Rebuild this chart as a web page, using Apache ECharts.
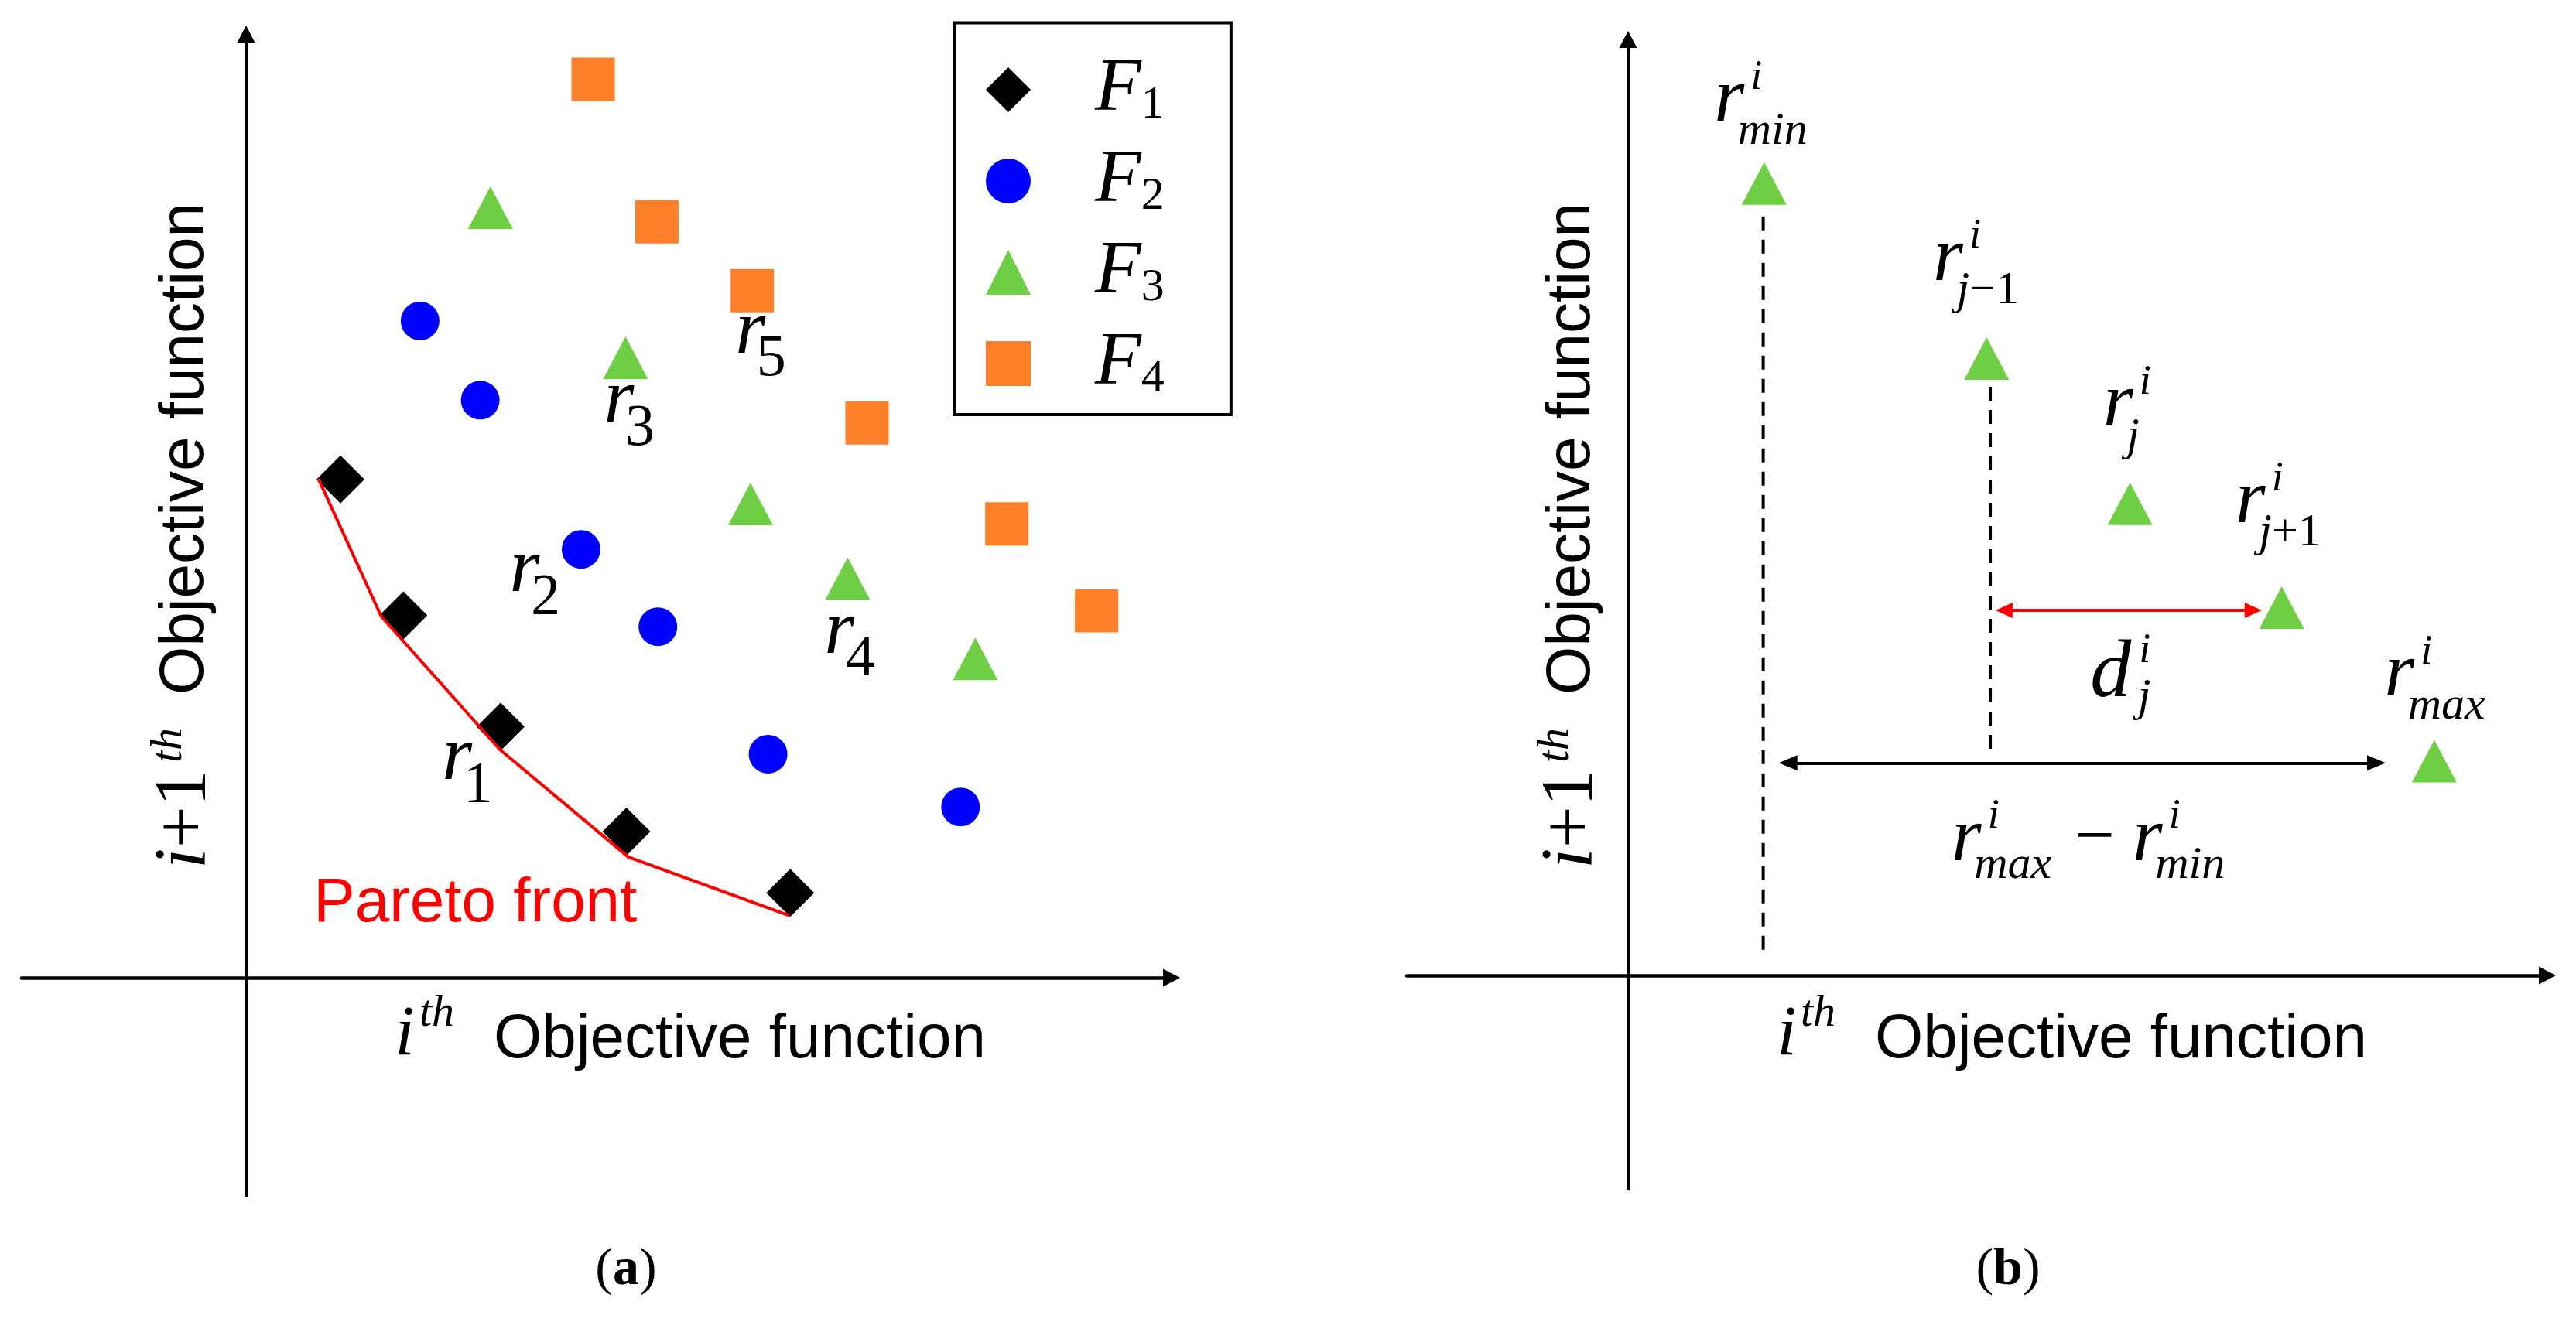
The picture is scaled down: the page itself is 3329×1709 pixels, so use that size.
<!DOCTYPE html>
<html>
<head>
<meta charset="utf-8">
<script src="https://cdn.jsdelivr.net/npm/echarts@6/dist/echarts.min.js"></script>
<style>html,body{margin:0;padding:0;background:#fff}#c{width:3329px;height:1709px}</style>
</head>
<body>
<div id="c"></div>
<script>
// ---------- Panel (a) data (axis units, origin at the axis crossing) ----------
const legendNames = ['F1', 'F2', 'F3', 'F4'];
const f1Points = [[10.2, 52.8], [17.0, 38.4], [27.5, 26.6], [41.1, 15.5], [58.8, 9.0]];
const f2Points = [[18.8, 69.6], [25.3, 61.2], [36.2, 45.4], [44.5, 37.2], [56.4, 23.7], [77.2, 18.1]];
const f3Points = [[26.4, 81.6], [41.0, 65.7], [54.5, 50.2], [65.0, 42.3], [78.8, 33.8]];
const f4Points = [[37.5, 95.2], [44.4, 80.1], [54.7, 72.8], [67.1, 58.8], [82.2, 48.1], [91.9, 38.9]];
const paretoFront = [[7.8, 52.9], [14.6, 38.3], [27.4, 24.2], [41.3, 12.8], [58.7, 6.6]];
const rLabelsA = [
  { sub: '1', x: 22.8, y: 22.3 },
  { sub: '2', x: 30.1, y: 42.2 },
  { sub: '3', x: 40.3, y: 60.2 },
  { sub: '4', x: 64.1, y: 35.7 },
  { sub: '5', x: 54.5, y: 67.5 }
];
const paretoLabel = { text: 'Pareto front', x: 7.3, y: 7.8 };
const xRangeA = [-24.25, 100];
const yRangeA = [-23.03, 100];

// ---------- Panel (b) data ----------
const frontPoints = [[14.8, 84.6], [39.0, 65.9], [54.6, 50.4], [71.1, 39.3], [87.7, 22.9]];
const pointLabelsB = [
  { base: 'r', sup: 'i', sub: 'min', x: 11.0, y: 92.6 },
  { base: 'r', sup: 'i', sub: 'j−1', x: 34.8, y: 75.6 },
  { base: 'r', sup: 'i', sub: 'j', x: 53.3, y: 60.0 },
  { base: 'r', sup: 'i', sub: 'j+1', x: 67.7, y: 49.7 },
  { base: 'd', sup: 'i', sub: 'j', x: 52.5, y: 32.1 },
  { base: 'r', sup: 'i', sub: 'max', x: 83.9, y: 31.2 }
];
const dropLine1 = [[14.7, 81.1], [14.7, 2.4]];
const dropLine2 = [[39.4, 62.9], [39.4, 24.1]];
const rangeArrow = [[17.4, 22.7], [81.4, 22.7]];
const distArrow = [[40.9, 39.0], [68.0, 39.0]];
const rangeLabel = { x: 36.8, y: 13.6 };
const xRangeB = [-24.07, 100];
const yRangeB = [-22.81, 100];

// ---------- styles ----------
const SERIF = "'Liberation Serif', 'Times New Roman', serif";
const SANS = "'Liberation Sans', Arial, sans-serif";
const GREEN = '#6FCF44';
const ORANGE = '#FF8028';
const BLUE = '#0000FF';

function axisDef(gridIndex, range) {
  return {
    type: 'value', gridIndex: gridIndex, min: range[0], max: range[1],
    axisLine: { show: true, onZero: true, symbol: ['none', 'triangle'], symbolSize: [23, 22],
      lineStyle: { color: '#000', width: 4.5 } },
    axisTick: { show: false }, axisLabel: { show: false },
    splitLine: { show: false }, splitArea: { show: false }
  };
}

const chart = echarts.init(document.getElementById('c'), null, { renderer: 'canvas' });

const arrowMark = (pts, color, size) => ({
  silent: true, animation: false,
  symbol: ['triangle', 'triangle'], symbolSize: size,
  label: { show: false },
  emphasis: { disabled: true },
  lineStyle: { color: color, width: 4, type: 'solid' },
  data: [[{ coord: pts[0] }, { coord: pts[1] }]]
});

const option = {
  animation: false,
  backgroundColor: '#fff',
  grid: [
    { left: 28, top: 44, width: 1486, height: 1501, containLabel: false, outerBoundsMode: 'none' },
    { left: 1818, top: 51, width: 1474, height: 1486, containLabel: false, outerBoundsMode: 'none' }
  ],
  xAxis: [axisDef(0, xRangeA), axisDef(1, xRangeB)],
  yAxis: [axisDef(0, yRangeA), axisDef(1, yRangeB)],
  legend: {
    data: legendNames,
    orient: 'vertical',
    left: 1233, top: 29.5,
    padding: [37.5, 86, 16, 41],
    itemGap: 19,
    itemWidth: 58, itemHeight: 58,
    borderColor: '#000', borderWidth: 4,
    backgroundColor: '#fff',
    selectedMode: false,
    formatter: name => '{f|F}{s|' + name.slice(1) + '}',
    textStyle: {
      rich: {
        f: { fontFamily: SERIF, fontStyle: 'italic', fontSize: 98, lineHeight: 100, padding: [0, 0, 0, 78], color: '#000' },
        s: { fontFamily: SERIF, fontSize: 60, lineHeight: 26, verticalAlign: 'bottom', color: '#000' }
      }
    }
  },
  series: [
    { name: 'F1', type: 'scatter', xAxisIndex: 0, yAxisIndex: 0, data: f1Points,
      symbol: 'diamond', symbolSize: 62, itemStyle: { color: '#000', opacity: 1 }, z: 3 },
    { name: 'F2', type: 'scatter', xAxisIndex: 0, yAxisIndex: 0, data: f2Points,
      symbol: 'circle', symbolSize: 50, itemStyle: { color: BLUE, opacity: 1 }, z: 3 },
    { name: 'F3', type: 'scatter', xAxisIndex: 0, yAxisIndex: 0, data: f3Points,
      symbol: 'triangle', symbolSize: [58, 55], itemStyle: { color: GREEN, opacity: 1 }, z: 3 },
    { name: 'F4', type: 'scatter', xAxisIndex: 0, yAxisIndex: 0, data: f4Points,
      symbol: 'rect', symbolSize: 56, itemStyle: { color: ORANGE, opacity: 1 }, z: 3 },
    { name: 'Pareto front', type: 'line', xAxisIndex: 0, yAxisIndex: 0, data: paretoFront,
      symbol: 'none', lineStyle: { color: '#FF0000', width: 4 }, z: 5, silent: true },

    { name: 'Front (b)', type: 'scatter', xAxisIndex: 1, yAxisIndex: 1, data: frontPoints,
      symbol: 'triangle', symbolSize: [58, 55], itemStyle: { color: GREEN, opacity: 1 }, z: 3 },
    { name: 'drop1', type: 'line', xAxisIndex: 1, yAxisIndex: 1, data: dropLine1, symbol: 'none',
      lineStyle: { color: '#000', width: 4, type: [18, 12] }, silent: true },
    { name: 'drop2', type: 'line', xAxisIndex: 1, yAxisIndex: 1, data: dropLine2, symbol: 'none',
      lineStyle: { color: '#000', width: 4, type: [18, 12] }, silent: true },
    { name: 'range', type: 'line', xAxisIndex: 1, yAxisIndex: 1, data: [],
      markLine: arrowMark(rangeArrow, '#000', [20, 24]) },
    { name: 'dist', type: 'line', xAxisIndex: 1, yAxisIndex: 1, data: [],
      markLine: arrowMark(distArrow, '#FF0000', [20, 22]) }
  ]
};
chart.setOption(option);

// ---------- text annotations ----------
function T(x, y, text, size, o) {
  o = o || {};
  const st = {
    text: text, fontSize: size, fontFamily: o.family || SERIF,
    fontStyle: o.italic ? 'italic' : 'normal', fontWeight: o.bold ? 'bold' : 'normal',
    fill: o.color || '#000', align: o.align || 'left', verticalAlign: 'middle',
    textAlign: o.align || 'left', textVerticalAlign: 'middle'
  };
  if (o.rich) st.rich = o.rich;
  return { type: 'text', x: x, y: y, silent: true, z: 100, style: st };
}
function mixed(str, size) {
  const text = str.replace(/([A-Za-z]+)|([^A-Za-z]+)/g, (m, a, b) => a ? '{it|' + a + '}' : '{rm|' + b + '}');
  const rich = {
    it: { fontFamily: SERIF, fontStyle: 'italic', fontSize: size, fill: '#000', color: '#000' },
    rm: { fontFamily: SERIF, fontSize: size, fill: '#000', color: '#000' }
  };
  return { text: text, rich: rich };
}
function px(g, p) { return chart.convertToPixel({ gridIndex: g }, p); }

const els = [];
// panel (a) r labels
rLabelsA.forEach(l => {
  const p = px(0, [l.x, l.y]);
  els.push(T(p[0], p[1] - 11, 'r', 100, { italic: true, align: 'center' }));
  els.push(T(p[0] + 8, p[1] + 25, l.sub, 76, {}));
});
{
  const p = px(0, [paretoLabel.x, paretoLabel.y]);
  els.push(T(p[0], p[1], paretoLabel.text, 80, { family: SANS, color: '#FF0000' }));
}
// panel (b) labels
pointLabelsB.forEach(l => {
  const p = px(1, [l.x, l.y]);
  const m = mixed(l.sub, 60);
  if (l.base === 'd') {
    els.push(T(p[0], p[1], 'd', 106, { italic: true, align: 'center' }));
    els.push(T(p[0] + 44, p[1] - 31, l.sup, 54, { italic: true, align: 'center' }));
    els.push(T(p[0] + 35, p[1] + 30, m.text, 60, { rich: m.rich }));
  } else {
    els.push(T(p[0], p[1] - 11, 'r', 100, { italic: true, align: 'center' }));
    els.push(T(p[0] + 35, p[1] - 40, l.sup, 54, { italic: true, align: 'center' }));
    els.push(T(p[0] + 11, p[1] + 30, m.text, 60, { rich: m.rich }));
  }
});
{
  const p = px(1, [rangeLabel.x, rangeLabel.y]);
  els.push(T(p[0], p[1] - 11, 'r', 100, { italic: true, align: 'center' }));
  els.push(T(p[0] + 35, p[1] - 41, 'i', 54, { italic: true, align: 'center' }));
  els.push(T(p[0] + 10, p[1] + 23, 'max', 60, { italic: true }));
  els.push(T(p[0] + 166, p[1] - 11, '−', 92, { align: 'center' }));
  els.push(T(p[0] + 234, p[1] - 11, 'r', 100, { italic: true, align: 'center' }));
  els.push(T(p[0] + 269, p[1] - 41, 'i', 54, { italic: true, align: 'center' }));
  els.push(T(p[0] + 244, p[1] + 23, 'min', 60, { italic: true }));
}
// axis titles
function xTitle(ix, thx, objx) {
  els.push(T(ix, 1339, 'i', 92, { italic: true, align: 'center' }));
  els.push(T(thx, 1311, 'th', 58, { italic: true }));
  els.push(T(objx, 1345, 'Objective function', 80, { family: SANS }));
}
xTitle(523, 542, 638);
xTitle(2309, 2327, 2423);
function yTitle(cx) {
  const m = mixed('i+1', 96);
  els.push({
    type: 'group', x: cx, y: 1123, rotation: Math.PI / 2, silent: true,
    children: [
      T(0, 0, m.text, 96, { rich: m.rich }),
      T(137, -21, 'th', 58, { italic: true }),
      T(225, 0, 'Objective function', 80, { family: SANS })
    ]
  });
}
yTitle(240);
yTitle(2032);
// panel captions
const capRich = {
  p: { fontFamily: SERIF, fontSize: 68, fill: '#000', color: '#000' },
  b: { fontFamily: SERIF, fontSize: 68, fontWeight: 'bold', fill: '#000', color: '#000' }
};
els.push(T(809, 1642, '{p|(}{b|a}{p|)}', 68, { align: 'center', rich: capRich }));
els.push(T(2595, 1642, '{p|(}{b|b}{p|)}', 68, { align: 'center', rich: capRich }));

chart.setOption({ graphic: { elements: els } });
</script>
</body>
</html>
